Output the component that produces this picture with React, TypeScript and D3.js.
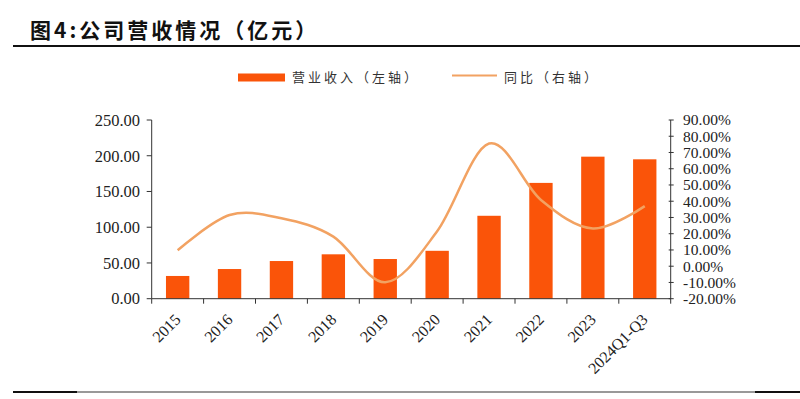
import React from "react";
import * as d3 from "d3";

const categories = ["2015", "2016", "2017", "2018", "2019", "2020", "2021", "2022", "2023", "2024Q1-Q3"];
const revenue = [31.8, 41.5, 52.7, 62.1, 55.5, 67.0, 116.0, 162.0, 198.7, 195.0];
const yoy = [9.8, 31.5, 29.5, 18.2, -9.9, 21.5, 75.5, 40.8, 23.2, 37.0];
const leftTicks = [0, 50, 100, 150, 200, 250];
const rightTicks = [-20, -10, 0, 10, 20, 30, 40, 50, 60, 70, 80, 90];

const W = 800;
const H = 399;
const plot = { left: 151.7, right: 670.7, top: 120, bottom: 298.7 };
const barColor = "#FA5409";
const lineColor = "#F2A262";
const axisColor = "#333";
const serif = "'Liberation Serif', 'Times New Roman', serif";
const cjk = "'Noto Sans CJK SC', sans-serif";

export default function App() {
  const x = d3.scaleBand<string>().domain(categories).range([plot.left, plot.right]).paddingInner(0.55).paddingOuter(0.275);
  const xb = d3.scaleBand<string>().domain(categories).range([plot.left, plot.right]);
  const yL = d3.scaleLinear().domain([0, 250]).range([plot.bottom, plot.top]);
  const yR = d3.scaleLinear().domain([-20, 90]).range([plot.bottom, plot.top]);
  const line = d3
    .line<number>()
    .x((_, i) => (xb(categories[i]) as number) + xb.bandwidth() / 2)
    .y((d) => yR(d))
    .curve(d3.curveCardinal.tension(0));
  const boundaries = categories.map((c) => xb(c) as number).concat([plot.right]);

  return (
    <svg width={W} height={H} style={{ position: "absolute", left: 0, top: 0, background: "#fff" }}>
      <rect x={0} y={0} width={W} height={H} fill="#fff" />
      {/* Title */}
      <text x={30} y={38} fontFamily={cjk} fontWeight={700} fontSize={21} letterSpacing={3} fill="#111">
        图4:公司营收情况（亿元）
      </text>
      <line x1={13} x2={800} y1={46} y2={46} stroke="#111" strokeWidth={2} />

      {/* Legend */}
      <rect x={238} y={73.5} width={47} height={8} fill={barColor} />
      <text x={292} y={82} fontFamily={cjk} fontSize={13} letterSpacing={3} fill="#333">营业收入（左轴）</text>
      <line x1={452} x2={497} y1={75.5} y2={75.5} stroke={lineColor} strokeWidth={2} />
      <text x={504} y={82} fontFamily={cjk} fontSize={13} letterSpacing={3} fill="#333">同比（右轴）</text>

      {/* Bars */}
      {revenue.map((v, i) => (
        <rect
          key={categories[i]}
          x={x(categories[i])}
          y={yL(v)}
          width={x.bandwidth()}
          height={yL(0) - yL(v)}
          fill={barColor}
        />
      ))}

      {/* Line */}
      <path d={line(yoy) || ""} fill="none" stroke={lineColor} strokeWidth={2.5} />

      {/* Left axis */}
      <line x1={plot.left} x2={plot.left} y1={plot.top} y2={plot.bottom} stroke={axisColor} strokeWidth={1} />
      {leftTicks.map((t) => (
        <g key={t}>
          <line x1={plot.left - 5} x2={plot.left} y1={yL(t)} y2={yL(t)} stroke={axisColor} />
          <text x={140} y={yL(t)} dy="0.35em" textAnchor="end" fontFamily={serif} fontSize={16.5} fill="#222">
            {t.toFixed(2)}
          </text>
        </g>
      ))}

      {/* Right axis */}
      <line x1={plot.right} x2={plot.right} y1={plot.top} y2={plot.bottom} stroke={axisColor} strokeWidth={1} />
      {rightTicks.map((t) => (
        <g key={t}>
          <line x1={plot.right - 2} x2={plot.right + 3} y1={yR(t)} y2={yR(t)} stroke={axisColor} />
          <text x={683} y={yR(t)} dy="0.35em" textAnchor="start" fontFamily={serif} fontSize={15.5} fill="#222">
            {t.toFixed(2) + "%"}
          </text>
        </g>
      ))}

      {/* Bottom axis */}
      <line x1={plot.left} x2={plot.right} y1={plot.bottom} y2={plot.bottom} stroke={axisColor} strokeWidth={1} />
      {boundaries.map((b, i) => (
        <line key={i} x1={b} x2={b} y1={plot.bottom} y2={plot.bottom + 5} stroke={axisColor} />
      ))}
      {categories.map((c) => {
        const cx = (xb(c) as number) + xb.bandwidth() / 2 + 4;
        const cy = plot.bottom + 22;
        return (
          <text
            key={c}
            x={cx}
            y={cy}
            transform={`rotate(-45 ${cx} ${cy})`}
            textAnchor="end"
            fontFamily={serif}
            fontSize={16}
            fill="#222"
          >
            {c}
          </text>
        );
      })}

      {/* Bottom rule */}
      <line x1={77} x2={755} y1={392} y2={392} stroke="#999" strokeWidth={2} />
      <line x1={13} x2={77} y1={392} y2={392} stroke="#111" strokeWidth={2} />
      <line x1={755} x2={800} y1={392} y2={392} stroke="#111" strokeWidth={2} />
    </svg>
  );
}
